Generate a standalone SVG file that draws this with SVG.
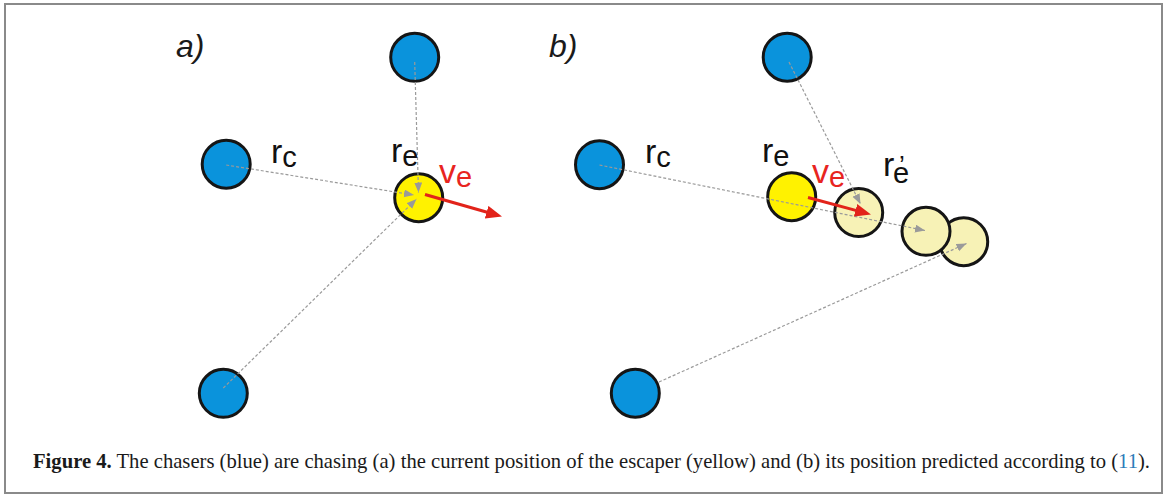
<svg xmlns="http://www.w3.org/2000/svg" width="1168" height="497" viewBox="0 0 1168 497">
  <style>
    .blue { fill: #0a93dc; stroke: #151515; stroke-width: 3; }
    .yellow { fill: #fff200; stroke: #151515; stroke-width: 3; }
    .pale { fill: #f7f2b6; stroke: #151515; stroke-width: 3; }
    .dash { fill: none; stroke: #9a9a9a; stroke-width: 1.2; stroke-dasharray: 3 2; marker-end: url(#garrow); }
    .vel { fill: none; stroke: #e2231a; stroke-width: 3; marker-end: url(#rarrow); }
    .lbl { font-family: "Liberation Sans", Arial, sans-serif; font-size: 34px; fill: #111111; }
    .sub { font-size: 29px; }
    .red { fill: #e8251f; }
    .panel { font-family: "Liberation Sans", Arial, sans-serif; font-size: 32px; font-style: italic; fill: #1a1a1a; }
    .cap { font-family: "Liberation Serif", "Times New Roman", serif; font-size: 21px; fill: #1a1a1a; }
  </style>
  <defs>
    <marker id="garrow" markerUnits="userSpaceOnUse" markerWidth="12" markerHeight="10" refX="10" refY="4" orient="auto">
      <path d="M0,0 L10,4 L0,8 z" fill="#9a9a9a"/>
    </marker>
    <marker id="rarrow" markerUnits="userSpaceOnUse" markerWidth="18" markerHeight="14" refX="6" refY="6.5" orient="auto">
      <path d="M0,0 L16,6.5 L0,13 z" fill="#e2231a"/>
    </marker>
  </defs>
  <rect x="0" y="0" width="1168" height="497" fill="#ffffff"/>
  <rect x="5" y="4" width="1157" height="489" fill="none" stroke="#8a8a8a" stroke-width="2"/>

  <!-- panel labels -->
  <text class="panel" x="176" y="57">a)</text>
  <text class="panel" x="549" y="57">b)</text>

  <!-- Panel a nodes -->
  <g id="a-chaser-top"><circle class="blue" cx="414.7" cy="57.3" r="24"/></g>
  <g id="a-chaser-left"><circle class="blue" cx="226.2" cy="164.2" r="24"/></g>
  <g id="a-chaser-bottom"><circle class="blue" cx="223.3" cy="393.3" r="24"/></g>
  <g id="a-escaper"><circle class="yellow" cx="418.7" cy="197.7" r="24"/></g>

  <!-- Panel b nodes -->
  <g id="b-chaser-top"><circle class="blue" cx="787.2" cy="57.2" r="24"/></g>
  <g id="b-chaser-left"><circle class="blue" cx="599.5" cy="164.7" r="24"/></g>
  <g id="b-chaser-bottom"><circle class="blue" cx="635.3" cy="393.2" r="24"/></g>
  <g id="b-escaper"><circle class="yellow" cx="791.7" cy="196.7" r="24"/></g>
  <g id="b-predicted-3"><circle class="pale" cx="963.7" cy="241.7" r="24"/></g>
  <g id="b-predicted-2"><circle class="pale" cx="926" cy="231.3" r="24"/></g>
  <g id="b-predicted-1"><circle class="pale" cx="858.7" cy="212.5" r="24"/></g>

  <!-- connectors -->
  <g id="connectors">
    <line class="dash" x1="414.7" y1="62" x2="418.5" y2="192.5"/>
    <line class="dash" x1="226.2" y1="165" x2="414" y2="195"/>
    <line class="dash" x1="223.3" y1="388" x2="416.5" y2="199"/>
    <line class="dash" x1="789" y1="62" x2="860.5" y2="204"/>
    <line class="dash" x1="599.5" y1="165" x2="925" y2="230.5"/>
    <line class="dash" x1="659" y1="382" x2="966.5" y2="243.5"/>
    <line class="vel" x1="425" y1="194.5" x2="492.4" y2="213.8"/>
    <line class="vel" x1="808" y1="197.5" x2="861.3" y2="211.9"/>
  </g>

  <!-- labels panel a -->
  <text class="lbl" x="271" y="163">r<tspan class="sub" dy="4">c</tspan></text>
  <text class="lbl" x="391" y="162">r<tspan class="sub" dy="4">e</tspan></text>
  <text class="lbl red" x="439" y="183">v<tspan class="sub" dy="4">e</tspan></text>

  <!-- labels panel b -->
  <text class="lbl" x="645" y="163">r<tspan class="sub" dy="4">c</tspan></text>
  <text class="lbl" x="762" y="162">r<tspan class="sub" dy="4">e</tspan></text>
  <text class="lbl red" x="812" y="183">v<tspan class="sub" dy="4">e</tspan></text>
  <text class="lbl" x="883" y="176">r<tspan class="sub" x="893" y="183">e</tspan><tspan font-size="26" x="899" y="174">’</tspan></text>

  <!-- caption -->
  <text class="cap" x="33" y="468" textLength="1117" lengthAdjust="spacingAndGlyphs"><tspan font-weight="bold">Figure 4.</tspan> The chasers (blue) are chasing (a) the current position of the escaper (yellow) and (b) its position predicted according to (<tspan fill="#2b7bb9">11</tspan>).</text>
</svg>
